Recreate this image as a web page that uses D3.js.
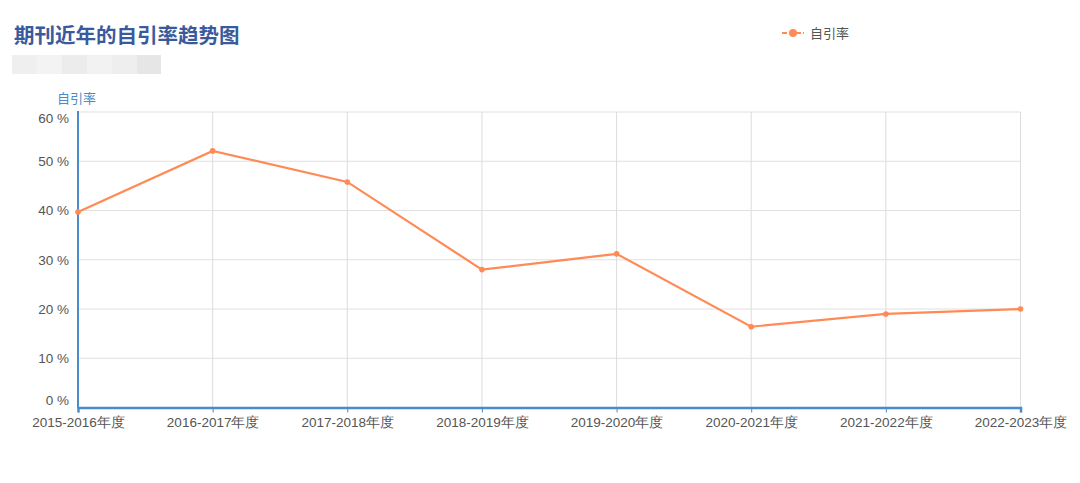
<!DOCTYPE html>
<html>
<head>
<meta charset="utf-8">
<script src="https://cdn.jsdelivr.net/npm/d3@7/dist/d3.min.js"></script>
<style>
  body { margin: 0; background: #fff; }
  svg { font-family: "Open Sans", "Noto Sans CJK SC", sans-serif; }
</style>
</head>
<body>
<svg id="chart" width="1080" height="483"></svg>
<script>
// chart data
var years = ["2015-2016年度", "2016-2017年度", "2017-2018年度", "2018-2019年度",
             "2019-2020年度", "2020-2021年度", "2021-2022年度", "2022-2023年度"];
var selfCiteRate = [39.7, 52.1, 45.8, 28.0, 31.2, 16.4, 19.0, 20.0];
var yTicks = [0, 10, 20, 30, 40, 50, 60];

var svg = d3.select("#chart");

var margin = {left: 78, right: 1020.5, top: 112, bottom: 407.5};

var scales = {
  "x": d3.scalePoint()
    .domain(years)
    .range([margin.left, margin.right]),
  "y": d3.scaleLinear()
    .domain([0, 60])
    .range([margin.bottom, margin.top])
};

// title + blurred subtitle block
svg.append("text")
  .attr("x", 14).attr("y", 43)
  .attr("font-size", 20.5).attr("font-weight", "bold")
  .attr("fill", "#3a5a9c")
  .attr("font-family", "Noto Sans CJK SC")
  .text("期刊近年的自引率趋势图");

var blur = svg.append("g").attr("class", "blur");
[["#efefef", 12, 25], ["#f3f3f3", 37, 25], ["#ececec", 62, 25], ["#f2f2f2", 87, 25],
 ["#eeeeee", 112, 25], ["#e6e6e6", 137, 24]].forEach(function (b) {
  blur.append("rect").attr("x", b[1]).attr("y", 55).attr("width", b[2]).attr("height", 19)
    .attr("fill", b[0]);
});

// horizontal grid
var grid = svg.append("g").attr("class", "grid");
grid.selectAll("line.h")
  .data(yTicks).enter()
  .append("line")
  .attr("class", "h")
  .attr("x1", margin.left).attr("x2", margin.right)
  .attr("y1", (d) => scales.y(d)).attr("y2", (d) => scales.y(d))
  .attr("stroke", "#e0e0e0").attr("stroke-width", 1);

// vertical grid
grid.selectAll("line.v")
  .data(years).enter()
  .append("line")
  .attr("class", "v")
  .attr("x1", (d) => scales.x(d)).attr("x2", (d) => scales.x(d))
  .attr("y1", margin.top).attr("y2", margin.bottom)
  .attr("stroke", "#dcdcdc").attr("stroke-width", 1);

// y axis
var yAxis = d3.axisLeft(scales.y)
  .tickValues(yTicks)
  .tickSize(0)
  .tickPadding(9)
  .tickFormat((d) => d + " %");

var gy = svg.append("g")
  .attr("transform", "translate(" + margin.left + ",0)")
  .call(yAxis);
gy.select(".domain").remove();
gy.selectAll("text")
  .attr("font-size", 13.5)
  .attr("fill", "#555")
  .attr("dy", (d) => d === 60 ? "0.8em" : (d === 0 ? "-0.2em" : "0.32em"));

svg.append("line")
  .attr("x1", margin.left).attr("x2", margin.left)
  .attr("y1", margin.top - 1).attr("y2", margin.bottom + 1)
  .attr("stroke", "#4a8ccb").attr("stroke-width", 2);

svg.append("text")
  .attr("x", 57).attr("y", 103)
  .attr("font-size", 13).attr("fill", "#4a8ccb")
  .attr("font-family", "Noto Sans CJK SC")
  .text("自引率");

// x axis
var xAxis = d3.axisBottom(scales.x)
  .tickSize(5)
  .tickPadding(5);

var gx = svg.append("g")
  .attr("transform", "translate(0," + margin.bottom + ")")
  .call(xAxis);
gx.select(".domain")
  .attr("stroke", "#4a8ccb").attr("stroke-width", 2.5);
gx.selectAll(".tick line").attr("stroke", "#4a8ccb").attr("stroke-width", 1);
gx.selectAll("text")
  .attr("font-size", 13.5)
  .attr("fill", "#555");

// series line
var line = d3.line()
  .x((d, i) => scales.x(years[i]))
  .y((d) => scales.y(d));

svg.append("path")
  .datum(selfCiteRate)
  .attr("d", line)
  .attr("fill", "none")
  .attr("stroke", "#ff8a55")
  .attr("stroke-width", 2.2);

svg.selectAll("circle.pt")
  .data(selfCiteRate).enter()
  .append("circle")
  .attr("class", "pt")
  .attr("cx", (d, i) => scales.x(years[i]))
  .attr("cy", (d) => scales.y(d))
  .attr("r", 2.8)
  .attr("fill", "#ff8a55");

// legend
var legend = svg.append("g").attr("transform", "translate(782,33)");
legend.append("line")
  .attr("x1", 0).attr("x2", 22).attr("y1", 0).attr("y2", 0)
  .attr("stroke", "#ff8a55").attr("stroke-width", 2)
  .attr("stroke-dasharray", "5,2");
legend.append("circle")
  .attr("cx", 11).attr("cy", 0).attr("r", 4)
  .attr("fill", "#ff8a55");
legend.append("text")
  .attr("x", 28).attr("y", 4.5)
  .attr("font-size", 13).attr("fill", "#555")
  .attr("font-family", "Noto Sans CJK SC")
  .text("自引率");
</script>
</body>
</html>
